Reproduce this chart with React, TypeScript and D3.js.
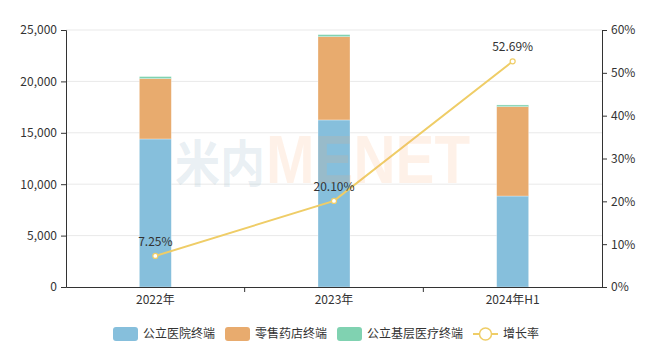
import React, { useEffect, useRef } from 'react';
import * as d3 from 'd3';

const categories = ['2022年', '2023年', '2024年H1'];
const seriesNames = ['公立医院终端', '零售药店终端', '公立基层医疗终端'];
const hospital = [14400, 16250, 8850];
const retail = [5870, 8100, 8690];
const grassroots = [200, 200, 170];
const growth = [7.25, 20.1, 52.69];
const leftTicks = [0, 5000, 10000, 15000, 20000, 25000];
const rightTicks = [0, 10, 20, 30, 40, 50, 60];

const colors = ['#86bfdc', '#e8ab6e', '#80d2b1'];
const lineColor = '#efcd67';
const font = '"Noto Sans CJK SC", "Noto Sans", sans-serif';

const App: React.FC = () => {
  const svgRef = useRef<SVGSVGElement>(null);

  useEffect(() => {
    if (!svgRef.current) return;
    const svg = d3.select(svgRef.current);
    svg.selectAll('*').remove();

    const margin = { top: 30, right: 62, bottom: 77, left: 66 };
    const width = 664;
    const height = 364;
    const innerW = width - margin.left - margin.right;
    const innerH = height - margin.top - margin.bottom;

    const g = svg.append('g').attr('transform', `translate(${margin.left},${margin.top})`);

    const x = d3.scaleBand().domain(categories).range([0, innerW]);
    const y = d3.scaleLinear().domain([0, 25000]).range([innerH, 0]);
    const y2 = d3.scaleLinear().domain([0, 60]).range([innerH, 0]);

    // grid
    g.selectAll('line.grid')
      .data(leftTicks.slice(1))
      .enter()
      .append('line')
      .attr('x1', 0)
      .attr('x2', innerW)
      .attr('y1', d => y(d))
      .attr('y2', d => y(d))
      .attr('stroke', '#e9e9e9');

    // stacked bars
    const rows = categories.map((c, i) => ({ cat: c, a: hospital[i], b: retail[i], c: grassroots[i] }));
    const stack = d3.stack<any>().keys(['a', 'b', 'c'])(rows);
    const barW = 32;
    stack.forEach((layer, li) => {
      g.selectAll(`rect.s${li}`)
        .data(layer)
        .enter()
        .append('rect')
        .attr('x', d => (x(d.data.cat) as number) + x.bandwidth() / 2 - barW / 2)
        .attr('width', barW)
        .attr('y', d => y(d[1]))
        .attr('height', d => y(d[0]) - y(d[1]))
        .attr('fill', colors[li])
        .attr('stroke', 'rgba(255,255,255,0.5)')
        .attr('stroke-width', 0.6);
    });

    // watermark
    svg.append('text')
      .attr('x', 175)
      .attr('y', 182)
      .attr('font-family', font)
      .attr('font-weight', 'bold')
      .attr('font-size', 50)
      .attr('textLength', 90)
      .attr('lengthAdjust', 'spacingAndGlyphs')
      .attr('fill', 'rgba(160,190,205,0.24)')
      .text('米内');
    svg.append('text')
      .attr('x', 266)
      .attr('y', 183)
      .attr('font-family', 'Arial, "Liberation Sans", sans-serif')
      .attr('font-weight', 'bold')
      .attr('font-size', 69)
      .attr('textLength', 204)
      .attr('lengthAdjust', 'spacingAndGlyphs')
      .attr('fill', 'rgba(248,170,110,0.16)')
      .text('MENET');

    // axes
    const axisColor = '#333';
    const left = g.append('g').call(d3.axisLeft(y).tickValues(leftTicks).tickSize(5).tickPadding(4).tickFormat(d3.format(',')));
    const right = g.append('g').attr('transform', `translate(${innerW},0)`)
      .call(d3.axisRight(y2).tickValues(rightTicks).tickSize(5).tickPadding(4).tickFormat(d => `${d}%`));
    const bottom = g.append('g').attr('transform', `translate(0,${innerH})`)
      .call(d3.axisBottom(x).tickSize(0).tickPadding(8));
    [left, right, bottom].forEach(a => {
      a.select('.domain').attr('stroke', axisColor);
      a.selectAll('line').attr('stroke', axisColor);
      a.selectAll('text').attr('fill', '#333').attr('font-size', 12).attr('font-family', font);
    });
    // category boundary ticks
    g.selectAll('line.btick')
      .data(categories.slice(1))
      .enter()
      .append('line')
      .attr('x1', d => x(d) as number)
      .attr('x2', d => x(d) as number)
      .attr('y1', innerH)
      .attr('y2', innerH + 5)
      .attr('stroke', axisColor);

    // growth line
    const line = d3.line<number>()
      .x((_, i) => (x(categories[i]) as number) + x.bandwidth() / 2)
      .y(d => y2(d));
    g.append('path')
      .datum(growth)
      .attr('d', line)
      .attr('fill', 'none')
      .attr('stroke', lineColor)
      .attr('stroke-width', 2);
    g.selectAll('circle.pt')
      .data(growth)
      .enter()
      .append('circle')
      .attr('cx', (_, i) => (x(categories[i]) as number) + x.bandwidth() / 2)
      .attr('cy', d => y2(d))
      .attr('r', 2.5)
      .attr('fill', '#fff')
      .attr('stroke', lineColor)
      .attr('stroke-width', 1.2);
    g.selectAll('text.lbl')
      .data(growth)
      .enter()
      .append('text')
      .attr('x', (_, i) => (x(categories[i]) as number) + x.bandwidth() / 2)
      .attr('y', d => y2(d) - 10)
      .attr('text-anchor', 'middle')
      .attr('font-size', 12)
      .attr('font-family', font)
      .attr('fill', '#333')
      .text(d => `${d.toFixed(2)}%`);

    // legend
    const legendY = 334;
    const legendX = [113, 225, 337];
    seriesNames.forEach((name, i) => {
      svg.append('rect')
        .attr('x', legendX[i])
        .attr('y', legendY - 7)
        .attr('width', 25)
        .attr('height', 14)
        .attr('rx', 3)
        .attr('fill', colors[i]);
      svg.append('text')
        .attr('x', legendX[i] + 30)
        .attr('y', legendY)
        .attr('dy', '0.35em')
        .attr('font-size', 12)
        .attr('font-family', font)
        .attr('fill', '#333')
        .text(name);
    });
    svg.append('line')
      .attr('x1', 473).attr('x2', 498)
      .attr('y1', legendY).attr('y2', legendY)
      .attr('stroke', lineColor).attr('stroke-width', 2);
    svg.append('circle')
      .attr('cx', 485.5).attr('cy', legendY).attr('r', 6)
      .attr('fill', '#fff').attr('stroke', lineColor).attr('stroke-width', 1.5);
    svg.append('text')
      .attr('x', 503)
      .attr('y', legendY)
      .attr('dy', '0.35em')
      .attr('font-size', 12)
      .attr('font-family', font)
      .attr('fill', '#333')
      .text('增长率');
  }, []);

  return (
    <div style={{ position: 'absolute', left: 0, top: 0 }}>
      <svg ref={svgRef} width={664} height={364} style={{ display: 'block', background: '#fff' }} />
    </div>
  );
};

export default App;
